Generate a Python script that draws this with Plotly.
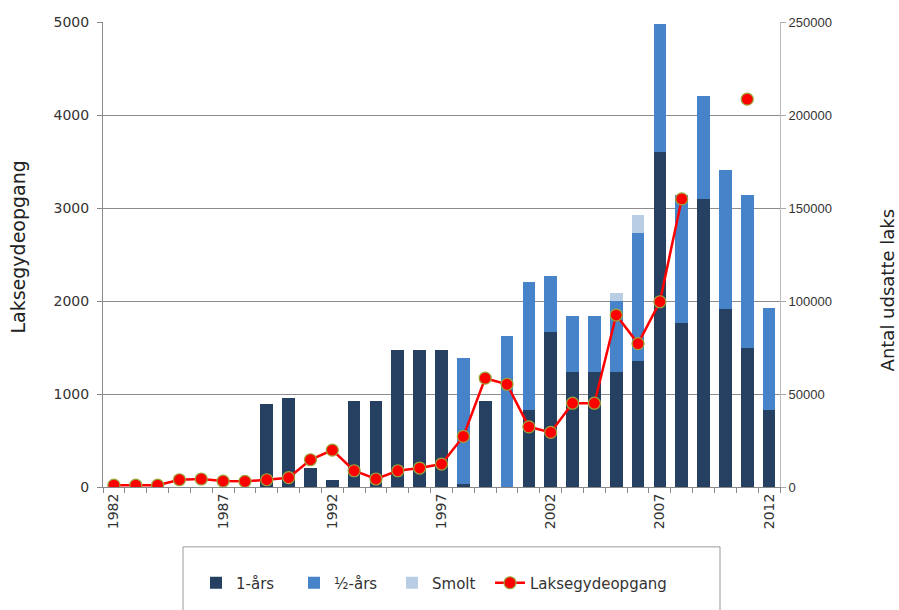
import plotly.graph_objects as go

years = list(range(1982, 2013))
one_year = [0, 0, 0, 0, 0, 0, 0, 44500, 47700, 10000, 3700, 46000, 46000, 73900, 73900, 73900,
            1500, 46300, 0, 41500, 83500, 62000, 62000, 62000, 67800, 180100, 88400, 154900,
            95500, 75000, 41500]
half_year = [0, 0, 0, 0, 0, 0, 0, 0, 0, 0, 0, 0, 0, 0, 0, 0,
             68100, 0, 81200, 68600, 29900, 29900, 29900, 38000, 68800, 68900, 68800, 55100,
             75100, 82200, 54900]
smolt = [0, 0, 0, 0, 0, 0, 0, 0, 0, 0, 0, 0, 0, 0, 0, 0,
         0, 0, 0, 0, 0, 0, 0, 4500, 9800, 0, 0, 0, 0, 0, 0]
spawning = [20, 20, 20, 78, 86, 64, 61, 78, 100, 293, 397, 175, 86, 175, 204, 247,
            544, 1170, 1105, 647, 587, 901, 901, 1849, 1542, 1992, 3098, None, None, 4170, None]
tick_years = [1982, 1987, 1992, 1997, 2002, 2007, 2012]
right_ticks = [0, 50000, 100000, 150000, 200000, 250000]
left_ticks = [0, 1000, 2000, 3000, 4000, 5000]

W, H = 899, 610
L, R, T, B = 103, 780, 22, 488
pw, ph = R - L, B - T

def px(x):
    return (x - L) / pw

def py(y):
    return (B - y) / ph

fig = go.Figure()
bar_colors = {"1-års": "#254061", "½-års": "#4683C9", "Smolt": "#B9CDE5"}
for name, vals in [("1-års", one_year), ("½-års", half_year), ("Smolt", smolt)]:
    fig.add_trace(go.Bar(x=years, y=vals, name=name, marker=dict(color=bar_colors[name], line=dict(width=0)),
                         yaxis="y"))
fig.add_trace(go.Scatter(x=years, y=spawning, name="Laksegydeopgang", mode="lines+markers",
                         line=dict(color="#FF0000", width=2.5),
                         marker=dict(color="#FF0000", size=12, line=dict(color="#9BA63A", width=1.2)),
                         connectgaps=False, yaxis="y2"))
# invisible spacer entry so the last legend label is not clipped
fig.add_trace(go.Scatter(x=[None], y=[None], name=" ", mode="markers",
                         marker=dict(opacity=0), yaxis="y2", hoverinfo="skip"))

fig.update_layout(
    width=W, height=H,
    margin=dict(l=L, r=W - R, t=T, b=H - B),
    paper_bgcolor="white", plot_bgcolor="white",
    barmode="stack", bargap=0.42,
    font=dict(family="DejaVu Sans", color="#333333"),
    xaxis=dict(range=[1981.5, 2012.5], tickmode="array", tickvals=tick_years,
               ticktext=[str(y) for y in tick_years], tickangle=-90,
               tickfont=dict(size=14, color="#333333"), ticks="",
               showline=True, linecolor="#888888", linewidth=1, showgrid=False, zeroline=False,
               minor=dict(tick0=1981.5, dtick=1, ticks="outside", ticklen=5, tickcolor="#888888",
                          showgrid=False)),
    yaxis=dict(side="right", range=[0, 250000], tickmode="array", tickvals=right_ticks,
               ticktext=[str(v) for v in right_ticks],
               tickfont=dict(family="Liberation Sans", size=13, color="#333333"),
               ticks="outside", ticklen=5, tickcolor="#aaaaaa",
               showline=True, linecolor="#bbbbbb", linewidth=1, showgrid=False, zeroline=False),
    yaxis2=dict(side="left", overlaying="y", range=[0, 5000], tickmode="array", tickvals=left_ticks,
                ticktext=[str(v) for v in left_ticks],
                tickfont=dict(size=14, color="#333333"),
                ticks="outside", ticklen=5, tickcolor="#888888", ticklabelstandoff=5,
                showline=True, linecolor="#888888", linewidth=1,
                showgrid=True, gridcolor="#8c8c8c", gridwidth=1, zeroline=False),
    showlegend=True,
    legend=dict(orientation="h", x=px(196), xanchor="left", y=py(583), yanchor="middle",
                font=dict(size=15, color="#333333"), bgcolor="rgba(0,0,0,0)",
                traceorder="normal", entrywidth=53, itemwidth=30),
    shapes=[dict(type="rect", xref="paper", yref="paper", x0=px(183), x1=px(720), y0=py(548), y1=py(616),
                 line=dict(color="#999999", width=1), fillcolor="rgba(0,0,0,0)", layer="below")],
    annotations=[
        dict(text="Laksegydeopgang", xref="paper", yref="paper", x=px(18), y=py(247), textangle=-90,
             showarrow=False, font=dict(size=19, color="#222222"), xanchor="center", yanchor="middle"),
        dict(text="Antal udsatte laks", xref="paper", yref="paper", x=px(887), y=py(291), textangle=-90,
             showarrow=False, font=dict(size=18, color="#222222"), xanchor="center", yanchor="middle"),
    ],
)

fig.write_html("out.html")
